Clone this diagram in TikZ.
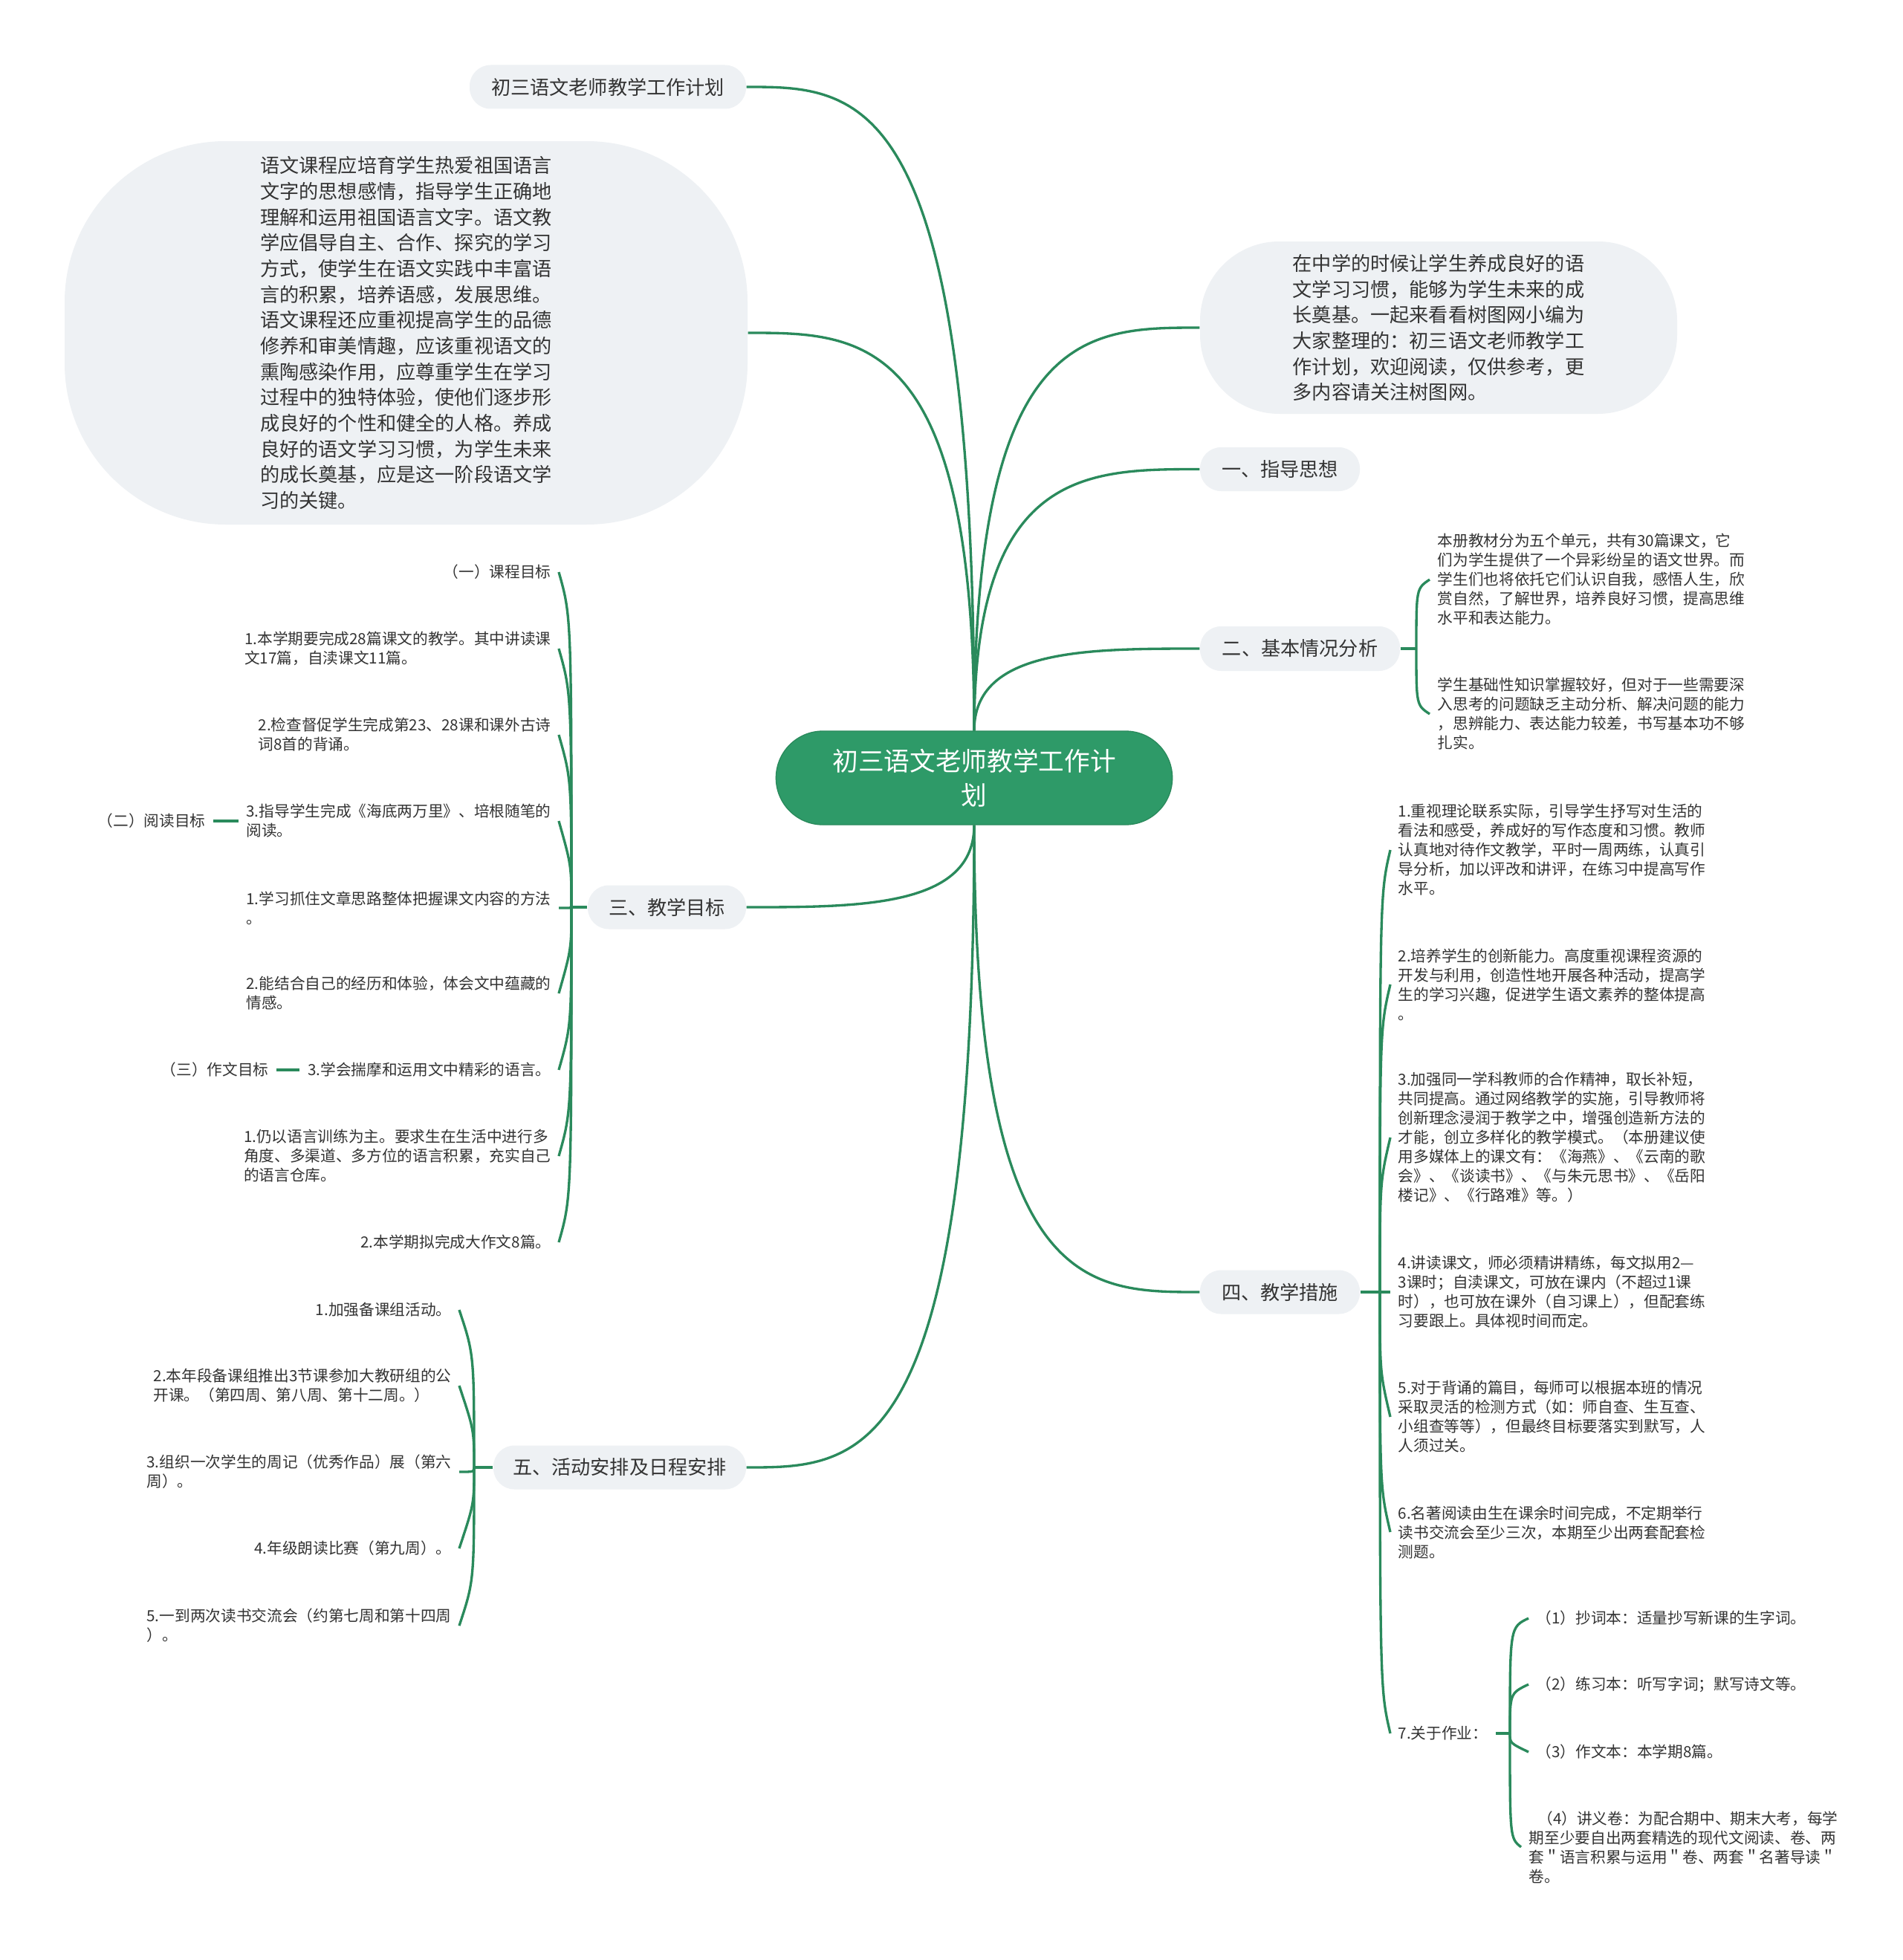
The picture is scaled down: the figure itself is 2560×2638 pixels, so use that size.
\documentclass[tikz,border=0pt]{standalone}
\usepackage{fontspec}
\newfontfamily\cjk{Noto Sans CJK SC}
\usetikzlibrary{calc}
\definecolor{lk}{HTML}{2A8A5C}
\definecolor{cfill}{HTML}{2E9A68}
\definecolor{gfill}{HTML}{EEF1F4}
\definecolor{tx}{HTML}{333333}
\tikzset{
  link/.style={draw=lk, line width=1pt},
  cnode/.style={fill=cfill, draw=lk, line width=0.4pt, text=white, rounded corners=18.9pt, align=center, inner sep=0pt, font=\cjk\fontsize{10.4pt}{13.6pt}\selectfont},
  gnode/.style={fill=gfill, text=tx, rounded corners=8.5pt, align=center, inner sep=0pt, font=\cjk\fontsize{7.85pt}{10.4pt}\selectfont},
  bub/.style={fill=gfill, text=tx, align=left, inner sep=0pt, font=\cjk\fontsize{7.85pt}{10.4pt}\selectfont},
  small/.style={text=tx, align=left, inner sep=3pt, font=\cjk\fontsize{6.2pt}{7.8pt}\selectfont},
}
\newcommand{\mlink}[2]{\draw[link] (#1) .. controls (#1 |- #2) and ($(#1 |- #2)!0.5!(#2)$) .. (#2);}
\newcommand{\blink}[3]{\draw[link] (#1) .. controls ($(#1 |- #2)+(0,#3)$) and ($(#1 |- #2)+(0,#3)$) .. (#2);}
\begin{document}
\begin{tikzpicture}[x=0.3pt,y=-0.3pt]
\useasboundingbox (0,0) rectangle (2560,2638);
\fill[white] (0,0) rectangle (2560,2638);

% centre
\node[cnode, minimum width=160pt, minimum height=37.8pt] (c) at (1311,1047) {初三语文老师教学工作计\\划};

% first level
\node[gnode, minimum width=111.6pt, minimum height=17.7pt] (n0) at (818,117) {初三语文老师教学工作计划};
\node[bub, minimum width=275.7pt, minimum height=154.8pt, rounded corners=65pt] (b1) at (546.5,448) {语文课程应培育学生热爱祖国语言\\文字的思想感情，指导学生正确地\\理解和运用祖国语言文字。语文教\\学应倡导自主、合作、探究的学习\\方式，使学生在语文实践中丰富语\\言的积累，培养语感，发展思维。\\语文课程还应重视提高学生的品德\\修养和审美情趣，应该重视语文的\\熏陶感染作用，应尊重学生在学习\\过程中的独特体验，使他们逐步形\\成良好的个性和健全的人格。养成\\良好的语文学习习惯，为学生未来\\的成长奠基，应是这一阶段语文学\\习的关键。};
\node[bub, minimum width=192.6pt, minimum height=69.6pt, rounded corners=32pt] (b2) at (1936,441) {在中学的时候让学生养成良好的语\\文学习习惯，能够为学生未来的成\\长奠基。一起来看看树图网小编为\\大家整理的：初三语文老师教学工\\作计划，欢迎阅读，仅供参考，更\\多内容请关注树图网。};
\node[gnode, minimum width=64.5pt, minimum height=17.7pt] (n1) at (1722.5,631.5) {一、指导思想};
\node[gnode, minimum width=80.7pt, minimum height=18pt] (n2) at (1749.5,873) {二、基本情况分析};
\node[gnode, minimum width=63.9pt, minimum height=17.7pt] (n3) at (897.5,1221) {三、教学目标};
\node[gnode, minimum width=64.5pt, minimum height=17.7pt] (n4) at (1722.5,1739) {四、教学措施};
\node[gnode, minimum width=102pt, minimum height=17.7pt] (n5) at (834,1975) {五、活动安排及日程安排};

\mlink{c.north}{n0.east}
\mlink{c.north}{b1.east}
\mlink{c.north}{b2.west}
\mlink{c.north}{n1.west}
\mlink{c.north}{n2.west}
\mlink{c.south}{n3.east}
\mlink{c.south}{n5.east}
\mlink{c.south}{n4.west}

% 二
\coordinate (t2) at (1906,873);
\node[small, anchor=west] (c21) at (1924,780) {本册教材分为五个单元，共有30篇课文，它\\们为学生提供了一个异彩纷呈的语文世界。而\\学生们也将依托它们认识自我，感悟人生，欣\\赏自然，了解世界，培养良好习惯，提高思维\\水平和表达能力。};
\node[small, anchor=west] (c22) at (1924,961) {学生基础性知识掌握较好，但对于一些需要深\\入思考的问题缺乏主动分析、解决问题的能力\\，思辨能力、表达能力较差，书写基本功不够\\扎实。};
\draw[link] (n2.east) -- (t2);
\blink{t2}{c21.west}{12}
\blink{t2}{c22.west}{-12}

% 三
\coordinate (t3) at (769,1221);
\node[small, anchor=east] (c31) at (752,770) {（一）课程目标};
\node[small, anchor=east] (c32) at (752,873) {1.本学期要完成28篇课文的教学。其中讲读课\\文17篇，自渎课文11篇。};
\node[small, anchor=east] (c33) at (752,989) {2.检查督促学生完成第23、28课和课外古诗\\词8首的背诵。};
\node[small, anchor=east] (c34) at (752,1105) {3.指导学生完成《海底两万里》、培根随笔的\\阅读。};
\node[small, anchor=east] (c35) at (752,1222) {1.学习抓住文章思路整体把握课文内容的方法\\。};
\node[small, anchor=east] (c36) at (752,1337) {2.能结合自己的经历和体验，体会文中蕴藏的\\情感。};
\node[small, anchor=east] (c37) at (752,1440) {3.学会揣摩和运用文中精彩的语言。};
\node[small, anchor=east] (c38) at (752,1556) {1.仍以语言训练为主。要求生在生活中进行多\\角度、多渠道、多方位的语言积累，充实自己\\的语言仓库。};
\node[small, anchor=east] (c39) at (752,1672) {2.本学期拟完成大作文8篇。};
\node[small, anchor=east] (c34L) at (287,1105) {（二）阅读目标};
\node[small, anchor=east] (c37L) at (372,1440) {（三）作文目标};
\draw[link] (n3.west) -- (t3);
\blink{t3}{c31.east}{60}
\blink{t3}{c32.east}{60}
\blink{t3}{c33.east}{60}
\blink{t3}{c34.east}{60}
\blink{t3}{c35.east}{0}
\blink{t3}{c36.east}{-60}
\blink{t3}{c37.east}{-60}
\blink{t3}{c38.east}{-60}
\blink{t3}{c39.east}{-60}
\draw[link] (c34.west) -- (c34L.east);
\draw[link] (c37.west) -- (c37L.east);

% 四
\coordinate (t4) at (1857,1739);
\node[small, anchor=west] (c41) at (1871,1144) {1.重视理论联系实际，引导学生抒写对生活的\\看法和感受，养成好的写作态度和习惯。教师\\认真地对待作文教学，平时一周两练，认真引\\导分析，加以评改和讲评，在练习中提高写作\\水平。};
\node[small, anchor=west] (c42) at (1871,1325) {2.培养学生的创新能力。高度重视课程资源的\\开发与利用，创造性地开展各种活动，提高学\\生的学习兴趣，促进学生语文素养的整体提高\\。};
\node[small, anchor=west] (c43) at (1871,1531) {3.加强同一学科教师的合作精神，取长补短，\\共同提高。通过网络教学的实施，引导教师将\\创新理念浸润于教学之中，增强创造新方法的\\才能，创立多样化的教学模式。（本册建议使\\用多媒体上的课文有：《海燕》、《云南的歌\\会》、《谈读书》、《与朱元思书》、《岳阳\\楼记》、《行路难》等。）};
\node[small, anchor=west] (c44) at (1871,1739) {4.讲读课文，师必须精讲精练，每文拟用2—\\3课时；自渎课文，可放在课内（不超过1课\\时），也可放在课外（自习课上），但配套练\\习要跟上。具体视时间而定。};
\node[small, anchor=west] (c45) at (1871,1907) {5.对于背诵的篇目，每师可以根据本班的情况\\采取灵活的检测方式（如：师自查、生互查、\\小组查等等），但最终目标要落实到默写，人\\人须过关。};
\node[small, anchor=west] (c46) at (1871,2062) {6.名著阅读由生在课余时间完成，不定期举行\\读书交流会至少三次，本期至少出两套配套检\\测题。};
\node[small, anchor=west] (c47) at (1871,2333) {7.关于作业：};
\draw[link] (n4.east) -- (t4);
\blink{t4}{c41.west}{60}
\blink{t4}{c42.west}{60}
\blink{t4}{c43.west}{60}
\blink{t4}{c44.west}{0}
\blink{t4}{c45.west}{-60}
\blink{t4}{c46.west}{-60}
\blink{t4}{c47.west}{-60}

% 7
\coordinate (t7) at (2032,2333);
\node[small, anchor=west] (c471) at (2057,2178) {（1）抄词本：适量抄写新课的生字词。};
\node[small, anchor=west] (c472) at (2057,2267) {（2）练习本：听写字词；默写诗文等。};
\node[small, anchor=west] (c473) at (2057,2358) {（3）作文本：本学期8篇。};
\node[small, anchor=west] (c474) at (2047,2486) {\hspace*{3.5pt}（4）讲义卷：为配合期中、期末大考，每学\\期至少要自出两套精选的现代文阅读、卷、两\\套＂语言积累与运用＂卷、两套＂名著导读＂\\卷。};
\draw[link] (c47.east) -- (t7);
\blink{t7}{c471.west}{12}
\blink{t7}{c472.west}{12}
\blink{t7}{c473.west}{-12}
\blink{t7}{c474.west}{-12}

% 五
\coordinate (t5) at (638,1975);
\node[small, anchor=east] (c51) at (618,1763) {1.加强备课组活动。};
\node[small, anchor=east] (c52) at (618,1865) {2.本年段备课组推出3节课参加大教研组的公\\开课。（第四周、第八周、第十二周。）};
\node[small, anchor=east] (c53) at (618,1981) {3.组织一次学生的周记（优秀作品）展（第六\\周）。};
\node[small, anchor=east] (c54) at (618,2084) {4.年级朗读比赛（第九周）。};
\node[small, anchor=east] (c55) at (618,2188) {5.一到两次读书交流会（约第七周和第十四周\\）。};
\draw[link] (n5.west) -- (t5);
\blink{t5}{c51.east}{60}
\blink{t5}{c52.east}{60}
\blink{t5}{c53.east}{0}
\blink{t5}{c54.east}{-60}
\blink{t5}{c55.east}{-60}
\end{tikzpicture}
\end{document}
